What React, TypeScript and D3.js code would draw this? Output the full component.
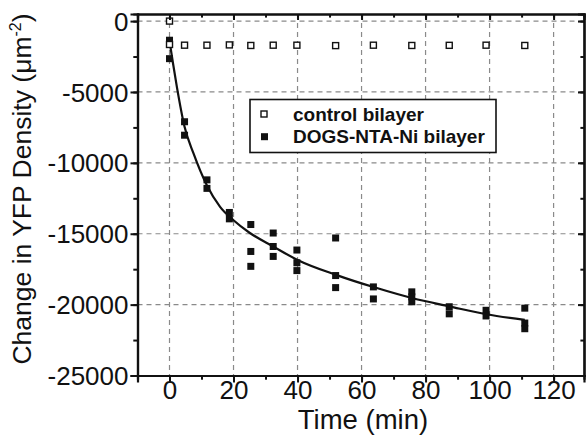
import React, {useRef, useEffect} from 'react';
import {select, scaleLinear, axisBottom, axisLeft, axisTop, axisRight, range, line, curveMonotoneX} from 'd3';

// control bilayer (open squares)
const controlTime = [0, 0, 4.7, 11.7, 18.7, 25.4, 32.4, 39.8, 51.9, 63.7, 75.7, 87.4, 98.9, 111];
const controlValue = [0, -1650, -1700, -1700, -1680, -1720, -1700, -1700, -1730, -1700, -1720, -1710, -1700, -1720];

// DOGS-NTA-Ni bilayer (filled squares)
const dogsTime = [0, 0, 0, 4.7, 4.7, 11.7, 11.7, 18.7, 18.7, 25.4, 25.4, 25.4, 32.4, 32.4, 32.4,
    39.8, 39.8, 39.8, 51.9, 51.9, 51.9, 63.7, 63.7, 75.7, 75.7, 75.7, 87.4, 87.4, 98.9, 98.9, 111, 111, 111];
const dogsValue = [-1350, -1550, -2650, -7100, -8050, -11200, -11800, -13500, -13950, -14350, -16250, -17300,
    -14950, -15900, -16600, -16150, -17050, -17600, -15300, -17950, -18800, -18750, -19600,
    -19100, -19450, -19800, -20150, -20650, -20400, -20800, -20250, -21300, -21700];

// fitted curve
const fitTime = [0, 1, 2.3, 4.7, 7.5, 11.7, 15.8, 20, 25, 32.5, 40, 52, 64, 76, 87.4, 99, 111];
const fitValue = [-1400, -2850, -4640, -7460, -9340, -11600, -13100, -14050, -14930, -15910, -16850,
    -17900, -18780, -19550, -20120, -20680, -21080];

const xTicks = [0, 20, 40, 60, 80, 100, 120];
const yTicks = [0, -5000, -10000, -15000, -20000, -25000];
const legendLabels = ['control bilayer', 'DOGS-NTA-Ni bilayer'];

const W = 586, H = 439;
const L = 137.5, R = 584, T = 14, B = 375.5;
const FONT = 'Liberation Sans, Arial, Helvetica, sans-serif';

const App = () => {
    const gRef = useRef(null);

    useEffect(() => {
        const svg = select(gRef.current);
        svg.selectAll('*').remove();

        const x = scaleLinear().domain([-10, 129.5]).range([L, R]);
        const y = scaleLinear().domain([-25000, 500]).range([B, T]);
        const minorX = range(-10, 130, 10);
        const minorY = range(-25000, 1, 2500);

        // grid lines
        const grid = svg.append('g').attr('stroke', '#8a8a8a').attr('stroke-width', 1.2).attr('stroke-dasharray', '5,4');
        grid.selectAll('.gx').data(xTicks).join('line')
            .attr('class', 'gx')
            .attr('x1', d => x(d)).attr('x2', d => x(d)).attr('y1', T).attr('y2', B);
        grid.selectAll('.gy').data(yTicks.filter(d => d > -25000)).join('line')
            .attr('class', 'gy')
            .attr('x1', L).attr('x2', R).attr('y1', d => y(d)).attr('y2', d => y(d));

        // fit line
        const fitLine = line<number>()
            .x((d, i) => x(fitTime[i]))
            .y(d => y(d))
            .curve(curveMonotoneX);
        svg.append('path').datum(fitValue).attr('d', fitLine)
            .attr('fill', 'none').attr('stroke', '#111').attr('stroke-width', 2.2);

        // points
        const s = 7;
        svg.append('g').selectAll('rect').data(dogsValue).join('rect')
            .attr('x', (d, i) => x(dogsTime[i]) - s / 2).attr('y', d => y(d) - s / 2)
            .attr('width', s).attr('height', s).attr('fill', '#111');
        svg.append('g').selectAll('rect').data(controlValue).join('rect')
            .attr('x', (d, i) => x(controlTime[i]) - 3).attr('y', d => y(d) - 3)
            .attr('width', 6).attr('height', 6).attr('fill', 'white')
            .attr('stroke', '#111').attr('stroke-width', 1.4);

        // axes: minor ticks first, then major ticks + labels
        const drawAxis = (axisFn, scale, pos, major, minor, len, fmt) => {
            const g = svg.append('g').attr('transform', pos);
            g.call(axisFn(scale).tickValues(minor).tickSize(len * 0.6).tickFormat(() => ''));
            const g2 = svg.append('g').attr('transform', pos);
            g2.call(axisFn(scale).tickValues(major).tickSize(len).tickFormat(fmt));
            [g, g2].forEach(gg => {
                gg.selectAll('path, line').attr('stroke', '#111').attr('stroke-width', 2);
                gg.select('.domain').attr('stroke-width', 2.2);
            });
            g2.selectAll('text').attr('font-family', FONT).attr('font-size', 26).attr('fill', '#111');
            return g2;
        };
        const bottom = drawAxis(axisBottom, x, `translate(0,${B})`, xTicks, minorX, 7, d => String(d));
        bottom.selectAll('text').attr('dy', null).attr('y', 23);
        const left = drawAxis(axisLeft, y, `translate(${L},0)`, yTicks, minorY, 7, d => String(d));
        left.selectAll('text').attr('x', -9).attr('dy', '0.35em');
        drawAxis(axisTop, x, `translate(0,${T})`, xTicks, minorX, -6, () => '');
        drawAxis(axisRight, y, `translate(${R},0)`, yTicks, minorY, -6, () => '');

        // legend
        const lg = svg.append('g');
        lg.append('rect').attr('x', 250).attr('y', 99.5).attr('width', 246).attr('height', 53)
            .attr('fill', 'white').attr('stroke', '#111').attr('stroke-width', 1.6);
        legendLabels.forEach((lab, i) => {
            const cy = 114 + i * 22.7;
            if (i === 0) {
                lg.append('rect').attr('x', 261).attr('y', cy - 3).attr('width', 6).attr('height', 6)
                    .attr('fill', 'white').attr('stroke', '#111').attr('stroke-width', 1.4);
            } else {
                lg.append('rect').attr('x', 261).attr('y', cy - 3.5).attr('width', 7).attr('height', 7).attr('fill', '#111');
            }
            lg.append('text').attr('x', 293).attr('y', cy + 6.7).text(lab)
                .attr('font-family', FONT).attr('font-size', 19).attr('font-weight', 'bold').attr('fill', '#111');
        });
    }, []);

    return (
        <svg width={W} height={H} style={{position: 'absolute', left: 0, top: 0, background: 'white'}}>
            <g ref={gRef}/>
            <text x={363} y={429} textAnchor="middle" fontFamily={FONT} fontSize={27.5} fill="#111">Time (min)</text>
            <text transform="translate(31,189) rotate(-90)" textAnchor="middle" fontFamily={FONT} fontSize={26.5} fill="#111">
                Change in YFP Density (μm<tspan fontSize={16} dy={-10}>-2</tspan><tspan dy={10}>)</tspan>
            </text>
        </svg>
    );
};

export default App;
